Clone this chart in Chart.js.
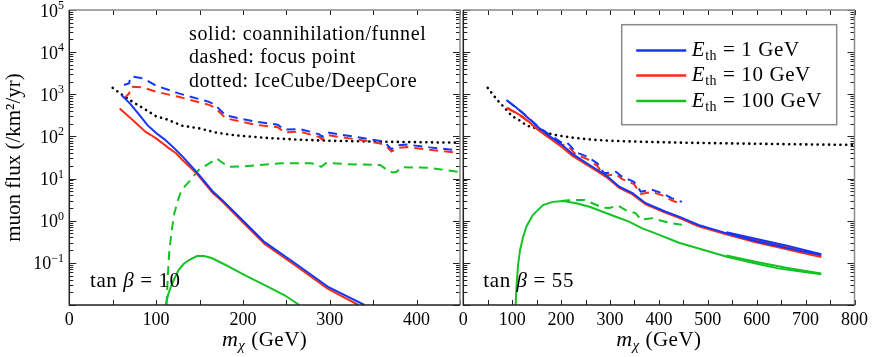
<!DOCTYPE html>
<html>
<head>
<meta charset="utf-8">
<script src="https://cdn.jsdelivr.net/npm/chart.js@4.4.1/dist/chart.umd.min.js"></script>
<style>
  html, body { margin: 0; padding: 0; background: #fff; }
  #wrap { position: relative; width: 872px; height: 357px; overflow: hidden; }
  .panel { position: absolute; top: 0; }
  #leftBox { left: 0; }
  #rightBox { left: 440px; }
</style>
</head>
<body>
<div id="wrap">
  <div class="panel" id="leftBox"><canvas id="leftChart" width="464" height="357"></canvas></div>
  <div class="panel" id="rightBox"><canvas id="rightChart" width="432" height="357"></canvas></div>
</div>
<script>
// IceCube/DeepCore sensitivity (same curve in both panels)
const iceMass = [50, 60, 73, 88, 100, 111, 130, 150, 170, 190, 225, 263, 300, 360, 400, 450, 560, 680, 800];
const iceFlux = [1420, 1000, 660, 430, 300, 260, 180, 155, 122, 107, 93, 84, 79, 75, 73, 71, 68, 65, 63];

// tan beta = 10, solid: coannihilation/funnel
const t10MassE1 = [60, 70, 80, 90, 100, 110, 122, 130, 147, 165, 176, 199, 225, 260, 298, 340];
const t10FluxE1 = [960, 600, 340, 185, 120, 84, 50, 34, 14, 5, 3.1, 1.05, 0.31, 0.098, 0.027, 0.01];
const t10MassE10 = [58, 73, 88, 94, 100, 115, 123, 130, 147, 165, 176, 199, 225, 260, 298, 333];
const t10FluxE10 = [460, 245, 128, 108, 90, 52, 40, 28, 13, 4.6, 2.9, 0.95, 0.28, 0.088, 0.024, 0.01];
const t10MassE100 = [111, 114, 117, 121, 126, 132, 138, 147, 155, 164, 180, 202, 229, 248, 265];
const t10FluxE100 = [0.01, 0.018, 0.027, 0.042, 0.068, 0.095, 0.117, 0.145, 0.145, 0.13, 0.089, 0.051, 0.027, 0.017, 0.01];

// tan beta = 10, dashed: focus point
const t10FpMass = [63, 69, 70, 72, 85, 100, 126, 161, 168, 180, 195, 214, 240, 248, 265, 277, 288, 291, 297, 311, 336, 358, 364, 371, 379, 389, 415, 448];
const t10FpE1 = [1660, 1820, 2500, 2630, 2400, 1600, 1050, 660, 560, 316, 270, 225, 190, 145, 150, 130, 112, 98, 125, 112, 93, 78, 70, 50, 62, 64, 55, 47];
const t10FpE10 = [800, 1050, 1380, 1520, 1450, 1150, 870, 560, 480, 270, 232, 190, 165, 125, 130, 112, 97, 85, 108, 97, 82, 68, 62, 44, 54, 56, 48, 41];
const t10FpMassE100 = [112, 113.5, 115, 118, 121, 125, 128, 133, 138, 149, 164, 170, 176, 184, 202, 244, 278, 284, 290, 296, 320, 358, 368, 373, 377, 383, 415, 448];
const t10FpE100 = [0.01, 0.05, 0.17, 0.6, 1.5, 3, 4.5, 6.5, 8.5, 16, 25, 30, 24, 19, 19.5, 23, 23, 22, 19, 23.5, 22, 21, 15, 14, 14.5, 18.6, 18, 14.5];

// tan beta = 55, solid: coannihilation
const t55Mass = [88, 105, 122, 140, 156, 180, 200, 224, 258, 292, 319, 346, 373, 414, 441, 481, 539, 596, 644, 690, 732];
const t55FluxE1 = [730, 520, 355, 230, 155, 95, 66, 38, 21, 12, 6.4, 4.5, 2.6, 1.63, 1.25, 0.79, 0.5, 0.33, 0.25, 0.19, 0.155];
const t55FluxE10 = [470, 380, 290, 195, 135, 85, 58, 34, 19.5, 11, 6, 4.2, 2.45, 1.53, 1.17, 0.74, 0.47, 0.31, 0.235, 0.175, 0.138];
const t55MassE100 = [107, 109, 112, 116, 122, 129, 142, 163, 183, 204, 231, 258, 285, 312, 339, 366, 393, 441, 539, 596, 644, 690, 732];
const t55FluxE100 = [0.01, 0.03, 0.09, 0.2, 0.4, 0.72, 1.36, 2.35, 2.8, 2.95, 2.6, 2.14, 1.63, 1.24, 0.95, 0.66, 0.5, 0.3, 0.14, 0.098, 0.074, 0.062, 0.054];
// tan beta = 55, solid: funnel branch
const t55FunnelMass = [538, 600, 660, 732];
const t55FunnelE1 = [0.53, 0.37, 0.26, 0.16];
const t55FunnelE10 = [0.5, 0.345, 0.24, 0.143];
const t55FunnelE100 = [0.15, 0.105, 0.077, 0.056];

// tan beta = 55, dashed: focus point
const t55FpMass = [90, 122, 156, 200, 210, 220, 230, 254, 274, 288, 312, 325, 349, 363, 386, 407, 427, 447];
const t55FpE1 = [700, 360, 160, 72, 75, 58, 42, 33, 23, 13.3, 14.5, 11, 8.4, 4.9, 5.4, 4.5, 3.4, 2.8];
const t55FpE10 = [480, 280, 135, 62, 64, 50, 37, 29, 20, 11.7, 12.7, 9.7, 7.4, 4.3, 4.8, 4.0, 3.0, 2.5];
const t55FpMassE100 = [200, 215, 230, 248, 264, 285, 299, 316, 332, 353, 363, 386, 405, 427, 447];
const t55FpE100 = [2.95, 3.05, 3.1, 3.1, 2.6, 2.05, 2.0, 2.3, 1.78, 1.5, 1.05, 1.15, 1.0, 0.87, 0.8];

// axes
const yLabelExps = [-1, 0, 1, 2, 3, 4, 5];
const thresholds = [1, 10, 100];

const SERIF = '"Liberation Serif", "DejaVu Serif", serif';
const BLUE = 'rgb(20, 55, 245)';
const RED = 'rgb(250, 45, 20)';
const GREEN = 'rgb(20, 195, 35)';

// minor + major ticks of the log axis
const yTickValues = [];
for (let e = -2; e <= 4; e++) {
    for (let m = 1; m <= 9; m++) yTickValues.push(m * Math.pow(10, e));
}
yTickValues.push(1e5);

function series(xs, ys, color, dashed) {
    return {
        data: xs.map((x, i) => ({ x: x, y: ys[i] })),
        borderColor: color,
        borderWidth: 2,
        borderDash: dashed ? [9, 6] : [],
        pointRadius: 0,
        fill: false,
        tension: 0
    };
}

function iceSeries() {
    return {
        data: iceMass.map((x, i) => ({ x: x, y: iceFlux[i] })),
        borderColor: '#000',
        borderWidth: 2.6,
        borderDash: [0.1, 5.6],
        borderCapStyle: 'round',
        pointRadius: 0,
        fill: false
    };
}

function panelOptions(xMax, yWidth, padding) {
    return {
        responsive: false,
        animation: false,
        events: [],
        layout: { padding: padding },
        plugins: { legend: { display: false }, tooltip: { enabled: false } },
        scales: {
            x: {
                type: 'linear', min: 0, max: xMax,
                grid: { display: false, drawTicks: false }, border: { display: false },
                ticks: {
                    stepSize: 50, autoSkip: false, maxRotation: 0, padding: 4, color: '#000',
                    font: { family: SERIF, size: 18 },
                    callback: v => (v % 100 === 0 ? String(v) : '')
                },
                afterFit: s => { s.height = 52; }
            },
            y: {
                type: 'logarithmic', min: 0.01, max: 1e5,
                grid: { display: false, drawTicks: false }, border: { display: false },
                ticks: { display: false },
                afterBuildTicks: s => { s.ticks = yTickValues.map(v => ({ value: v })); },
                afterFit: s => { s.width = yWidth; }
            }
        }
    };
}

// inward ticks on all four sides plus the box
const framePlugin = {
    id: 'frame',
    afterDraw(chart) {
        const ctx = chart.ctx, a = chart.chartArea;
        const x = chart.scales.x, y = chart.scales.y;
        ctx.save();
        ctx.strokeStyle = '#222';
        ctx.lineWidth = 1;
        ctx.beginPath();
        y.ticks.forEach(t => {
            const py = Math.round(y.getPixelForValue(t.value)) + 0.5;
            const lg = Math.log10(t.value);
            const len = Math.abs(lg - Math.round(lg)) < 1e-9 ? 7 : 4;
            ctx.moveTo(a.left, py); ctx.lineTo(a.left + len, py);
            ctx.moveTo(a.right, py); ctx.lineTo(a.right - len, py);
        });
        x.ticks.forEach(t => {
            const px = Math.round(x.getPixelForValue(t.value)) + 0.5;
            ctx.moveTo(px, a.bottom); ctx.lineTo(px, a.bottom - 5);
            ctx.moveTo(px, a.top); ctx.lineTo(px, a.top + 5);
        });
        ctx.stroke();
        ctx.lineWidth = 1.5;
        ctx.strokeStyle = '#8a8a8a';
        ctx.beginPath();
        ctx.moveTo(a.left, a.top); ctx.lineTo(a.right, a.top); ctx.lineTo(a.right, a.bottom);
        ctx.stroke();
        ctx.strokeStyle = '#222';
        ctx.beginPath();
        ctx.moveTo(a.left, a.top); ctx.lineTo(a.left, a.bottom); ctx.lineTo(a.right, a.bottom);
        ctx.stroke();
        ctx.restore();
    }
};

function drawParts(ctx, parts, x, y, align) {
    let w = 0;
    parts.forEach(p => { ctx.font = p[1]; w += ctx.measureText(p[0]).width; });
    let cx = align === 'right' ? x - w : align === 'center' ? x - w / 2 : x;
    parts.forEach(p => {
        ctx.font = p[1];
        ctx.fillText(p[0], cx, y + (p[2] || 0));
        cx += ctx.measureText(p[0]).width;
    });
}

function xTitle(ctx, cx) {
    ctx.letterSpacing = '0.5px';
    drawParts(ctx, [
        ['m', 'italic 22px ' + SERIF],
        ['\u03c7', 'italic 15px ' + SERIF, 4],
        [' (GeV)', '21px ' + SERIF]
    ], cx, 346, 'center');
    ctx.letterSpacing = '0px';
}

function tanBeta(ctx, x, val) {
    ctx.letterSpacing = '0.6px';
    drawParts(ctx, [
        ['tan ', '21px ' + SERIF],
        ['\u03b2', 'italic 21px ' + SERIF],
        [' = ' + val, '21px ' + SERIF]
    ], x, 287, 'left');
    ctx.letterSpacing = '0px';
}

const leftText = {
    id: 'leftText',
    afterDraw(chart) {
        const ctx = chart.ctx, y = chart.scales.y, a = chart.chartArea;
        ctx.save();
        ctx.fillStyle = '#000';
        ctx.textBaseline = 'alphabetic';
        yLabelExps.forEach(e => {
            const py = y.getPixelForValue(Math.pow(10, e));
            const sup = e < 0 ? '\u2212' + Math.abs(e) : String(e);
            drawParts(ctx, [['10', '18px ' + SERIF], [sup, '12px ' + SERIF, -7.5]], 64, py + 6.5, 'right');
        });
        xTitle(ctx, (a.left + a.right) / 2);
        ctx.save();
        ctx.translate(19.5, (a.top + a.bottom) / 2);
        ctx.rotate(-Math.PI / 2);
        ctx.font = '21px ' + SERIF;
        ctx.textAlign = 'center';
        ctx.fillText('muon flux (/km\u00b2/yr)', 0, 0);
        ctx.restore();
        ctx.font = '20px ' + SERIF;
        ctx.letterSpacing = '0.6px';
        ctx.fillText('solid: coannihilation/funnel', 189, 39.5);
        ctx.fillText('dashed: focus point', 189, 63);
        ctx.fillText('dotted: IceCube/DeepCore', 189, 86.5);
        ctx.letterSpacing = '0px';
        tanBeta(ctx, 90, 10);
        ctx.restore();
    }
};

const rightText = {
    id: 'rightText',
    afterDraw(chart) {
        const ctx = chart.ctx, a = chart.chartArea;
        ctx.save();
        ctx.fillStyle = '#000';
        xTitle(ctx, (a.left + a.right) / 2);
        tanBeta(ctx, a.left + 20, 55);
        // legend
        const bx = a.left + 158.4, by = 24.7, bw = 215, bh = 100;
        ctx.fillStyle = '#fff';
        ctx.fillRect(bx, by, bw, bh);
        ctx.strokeStyle = '#8a8a8a';
        ctx.lineWidth = 1.5;
        ctx.strokeRect(bx, by, bw, bh);
        const colors = [BLUE, RED, GREEN];
        const rows = [50.5, 75.5, 101];
        thresholds.forEach((th, i) => {
            ctx.strokeStyle = colors[i];
            ctx.lineWidth = 2.5;
            ctx.beginPath();
            ctx.moveTo(bx + 14.5, rows[i]); ctx.lineTo(bx + 64.5, rows[i]);
            ctx.stroke();
            ctx.fillStyle = '#000';
            ctx.letterSpacing = '0.6px';
            drawParts(ctx, [
                ['E', 'italic 21px ' + SERIF],
                ['th', '14px ' + SERIF, 4],
                [' = ' + th + ' GeV', '21px ' + SERIF]
            ], bx + 70, rows[i] + 5.5, 'left');
            ctx.letterSpacing = '0px';
        });
        ctx.restore();
    }
};

new Chart(document.getElementById('leftChart').getContext('2d'), {
    type: 'line',
    data: {
        datasets: [
            series(t10MassE1, t10FluxE1, BLUE, false),
            series(t10MassE10, t10FluxE10, RED, false),
            series(t10MassE100, t10FluxE100, GREEN, false),
            series(t10FpMass, t10FpE1, BLUE, true),
            series(t10FpMass, t10FpE10, RED, true),
            series(t10FpMassE100, t10FpE100, GREEN, true),
            iceSeries()
        ]
    },
    options: panelOptions(450, 69.3, { top: 10, right: 0.7, left: 0, bottom: 0 }),
    plugins: [framePlugin, leftText]
});

new Chart(document.getElementById('rightChart').getContext('2d'), {
    type: 'line',
    data: {
        datasets: [
            series(t55Mass, t55FluxE1, BLUE, false),
            series(t55FunnelMass, t55FunnelE1, BLUE, false),
            series(t55Mass, t55FluxE10, RED, false),
            series(t55FunnelMass, t55FunnelE10, RED, false),
            series(t55MassE100, t55FluxE100, GREEN, false),
            series(t55FunnelMass, t55FunnelE100, GREEN, false),
            series(t55FpMass, t55FpE1, BLUE, true),
            series(t55FpMass, t55FpE10, RED, true),
            series(t55FpMassE100, t55FpE100, GREEN, true),
            iceSeries()
        ]
    },
    options: panelOptions(800, 23.3, { top: 10, right: 15.3, left: 0, bottom: 0 }),
    plugins: [framePlugin, rightText]
});
</script>
</body>
</html>
